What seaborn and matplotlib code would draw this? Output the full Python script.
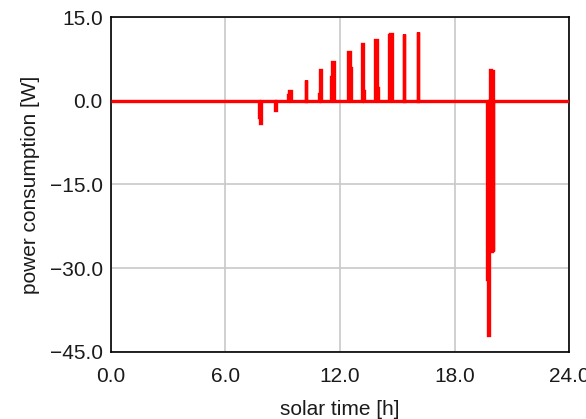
import matplotlib
matplotlib.use("Agg")
import matplotlib.pyplot as plt
import seaborn as sns
import pandas as pd

# Each spike of the power trace: where it starts and ends [h] and the two
# levels it reaches [W] (first level at the start, second level at the end)
spike_start_h = [7.74, 8.62, 9.28, 10.20, 10.90, 11.55, 12.44, 13.15, 13.86, 14.56, 15.37, 16.10]
spike_end_h   = [7.88, 8.64, 9.42, 10.20, 11.00, 11.66, 12.56, 13.26, 13.98, 14.70, 15.37, 16.10]
spike_first_w = [-3.0, -1.7, 1.1, 3.7, 1.2, 4.3, 8.7, 10.2, 10.9, 11.7, 12.0, 12.3]
spike_second_w = [-3.9, -1.7, 1.7, 3.7, 5.5, 6.9, 5.8, 1.8, 2.2, 12.0, 12.0, 12.3]

# The evening event around 19.7-20.0 h: explicit samples (time [h], power [W])
event_time_h = [19.68, 19.68, 19.74, 19.74, 19.80, 19.80, 19.86, 19.86,
                19.92, 19.92, 19.97, 19.97, 20.01, 20.01, 20.03, 20.03]
event_power_w = [0.0, -31.9, -31.9, -42.0, -42.0, 0.0, 0.0, 5.5,
                 5.5, -27.0, -27.0, 5.3, 5.3, -27.0, -27.0, 0.0]

day_start_h, day_end_h = 0.0, 24.0

x_ticks = [0.0, 6.0, 12.0, 18.0, 24.0]
y_ticks = [-45.0, -30.0, -15.0, 0.0, 15.0]
x_label = "solar time [h]"
y_label = "power consumption [W]"

# build the trace (zero baseline between events)
t, p = [day_start_h], [0.0]
for s, e, a, b in zip(spike_start_h, spike_end_h, spike_first_w, spike_second_w):
    m = (s + e) / 2
    t += [s, s, m, m, e, e]
    p += [0.0, a, a, b, b, 0.0]
t += event_time_h
p += event_power_w
t.append(day_end_h)
p.append(0.0)
df = pd.DataFrame({"t": t, "p": p})

sns.set_theme(style="white")
plt.rcParams["font.family"] = ["Liberation Sans", "DejaVu Sans"]
plt.rcParams["path.simplify"] = False

fig = plt.figure(figsize=(5.86, 4.19), dpi=100)
ax = fig.add_axes([0.1894, 0.160, 0.7816, 0.7994])

sns.lineplot(data=df, x="t", y="p", ax=ax, estimator=None, sort=False,
             color="#ff0000", linewidth=2.4, zorder=3)
for ln in ax.get_lines():
    ln.set_solid_joinstyle("miter")
    ln.set_solid_capstyle("butt")

def fmt(v):
    return f"{v:.1f}".replace("-", "\u2212")

ax.set_xlim(0, 24)
ax.set_ylim(-45, 15)
ax.set_xticks(x_ticks)
ax.set_yticks(y_ticks)
ax.set_xticklabels([fmt(v) for v in x_ticks])
ax.set_yticklabels([fmt(v) for v in y_ticks])
ax.grid(True, color="#c8c8c8", linewidth=1.2)
ax.set_axisbelow(True)
for s in ax.spines.values():
    s.set_color("black")
    s.set_linewidth(1.2)
    s.set_visible(True)
ax.tick_params(direction="inout", length=6, width=1.2, colors="black",
               labelsize=15, labelcolor="#1a1a1a")
ax.tick_params(axis="y", pad=3)
ax.tick_params(axis="x", pad=8)
ax.set_xlabel(x_label, fontsize=15, color="#1a1a1a", labelpad=10)
ax.set_ylabel(y_label, fontsize=15, color="#1a1a1a", labelpad=7)

fig.savefig("out.png", dpi=100)
